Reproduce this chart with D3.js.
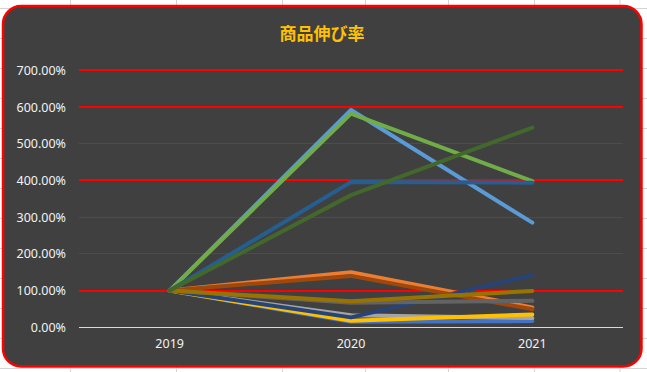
<!DOCTYPE html>
<html>
<head>
<meta charset="utf-8">
<script src="https://cdn.jsdelivr.net/npm/d3@7"></script>
<style>
  body { margin: 0; background: #ffffff; }
</style>
</head>
<body>
<script>
// categories and values (growth vs 2019, 1 = 100%)
const years = ["2019", "2020", "2021"];
const yTicks = [0, 1, 2, 3, 4, 5, 6, 7];
const thickGrid = [1, 4, 6, 7];

const seriesColors = [
  "#4472C4", "#ED7D31", "#A5A5A5", "#FFC000", "#5B9BD5", "#70AD47",
  "#264478", "#9E480E", "#636363", "#997300", "#255E91", "#43682B"
];
const seriesValues = [
  [1, 0.15, 0.17],
  [1, 1.50, 0.54],
  [1, 0.33, 0.25],
  [1, 0.18, 0.35],
  [1, 5.92, 2.85],
  [1, 5.82, 3.98],
  [1, 0.27, 1.42],
  [1, 1.40, 0.49],
  [1, 0.67, 0.72],
  [1, 0.71, 0.99],
  [1, 3.96, 3.94],
  [1, 3.60, 5.44]
];

const W = 647, H = 372;
let svg = d3.select("body").append("svg")
  .attr("width", W)
  .attr("height", H);

// sheet cell lines behind the chart
const colLines = [70.5, 176.5, 282.5, 365.5, 448.5, 534.5, 620];
svg.selectAll()
  .data(colLines)
  .enter()
  .append("line")
    .attr("x1", d => d).attr("x2", d => d)
    .attr("y1", 0).attr("y2", H)
    .attr("stroke", "#d4d4d4")
    .attr("stroke-width", 1);
svg.selectAll()
  .data(d3.range(8, H, 30))
  .enter()
  .append("line")
    .attr("x1", 0).attr("x2", W)
    .attr("y1", d => d + 0.5).attr("y2", d => d + 0.5)
    .attr("stroke", "#d4d4d4")
    .attr("stroke-width", 1);

// chart card
svg.append("rect")
  .attr("x", 3).attr("y", 6)
  .attr("width", 638.5).attr("height", 360.5)
  .attr("rx", 18).attr("ry", 18)
  .attr("fill", "#404040")
  .attr("stroke", "#ff0000")
  .attr("stroke-width", 2.5);

svg.append("text")
  .attr("x", 322)
  .attr("y", 40)
  .attr("text-anchor", "middle")
  .attr("font-family", "'Noto Sans CJK JP', sans-serif")
  .attr("font-size", "17px")
  .attr("font-weight", "bold")
  .attr("fill", "#FFC000")
  .text("商品伸び率");

const x = d3.scaleBand().domain(years).range([79, 623]);
const y = d3.scaleLinear().domain([0, 7]).range([327.3, 70.3]);

// gridlines (thin ones snapped to the pixel grid)
const gridY = d => thickGrid.includes(d) ? Math.round(y(d)) : Math.floor(y(d)) + 0.5;
svg.selectAll()
  .data(yTicks.filter(t => t > 0))
  .enter()
  .append("line")
    .attr("x1", 79).attr("x2", 623)
    .attr("y1", gridY).attr("y2", gridY)
    .attr("stroke", "#ff0000")
    .attr("stroke-width", d => thickGrid.includes(d) ? 2 : 1);

svg.append("line")
  .attr("x1", 79).attr("x2", 623)
  .attr("y1", Math.floor(y(0)) + 0.5).attr("y2", Math.floor(y(0)) + 0.5)
  .attr("stroke", "#d9d9d9")
  .attr("stroke-width", 1);

const yAxis = svg.append("g")
  .attr("transform", "translate(79,0)")
  .call(d3.axisLeft(y).tickValues(yTicks).tickSize(0).tickPadding(13).tickFormat(d3.format(".2%")));
yAxis.select(".domain").remove();
yAxis.selectAll("text")
  .attr("font-family", "'Noto Sans', sans-serif")
  .attr("font-size", "12.5px")
  .attr("fill", "#f2f2f2");

const xAxis = svg.append("g")
  .attr("transform", "translate(0," + y(0) + ")")
  .call(d3.axisBottom(x).tickSize(0).tickPadding(12));
xAxis.select(".domain").remove();
xAxis.selectAll("text")
  .attr("font-family", "'Noto Sans', sans-serif")
  .attr("font-size", "12.5px")
  .attr("fill", "#f2f2f2");

// series lines
const line = d3.line()
  .x((d, i) => x(years[i]) + x.bandwidth() / 2)
  .y(d => y(d));

svg.selectAll()
  .data(seriesValues)
  .enter()
  .append("path")
    .attr("d", d => line(d))
    .attr("fill", "none")
    .attr("stroke", (d, i) => seriesColors[i])
    .attr("stroke-width", 4)
    .attr("stroke-linejoin", "round")
    .attr("stroke-linecap", "round");
</script>
</body>
</html>
